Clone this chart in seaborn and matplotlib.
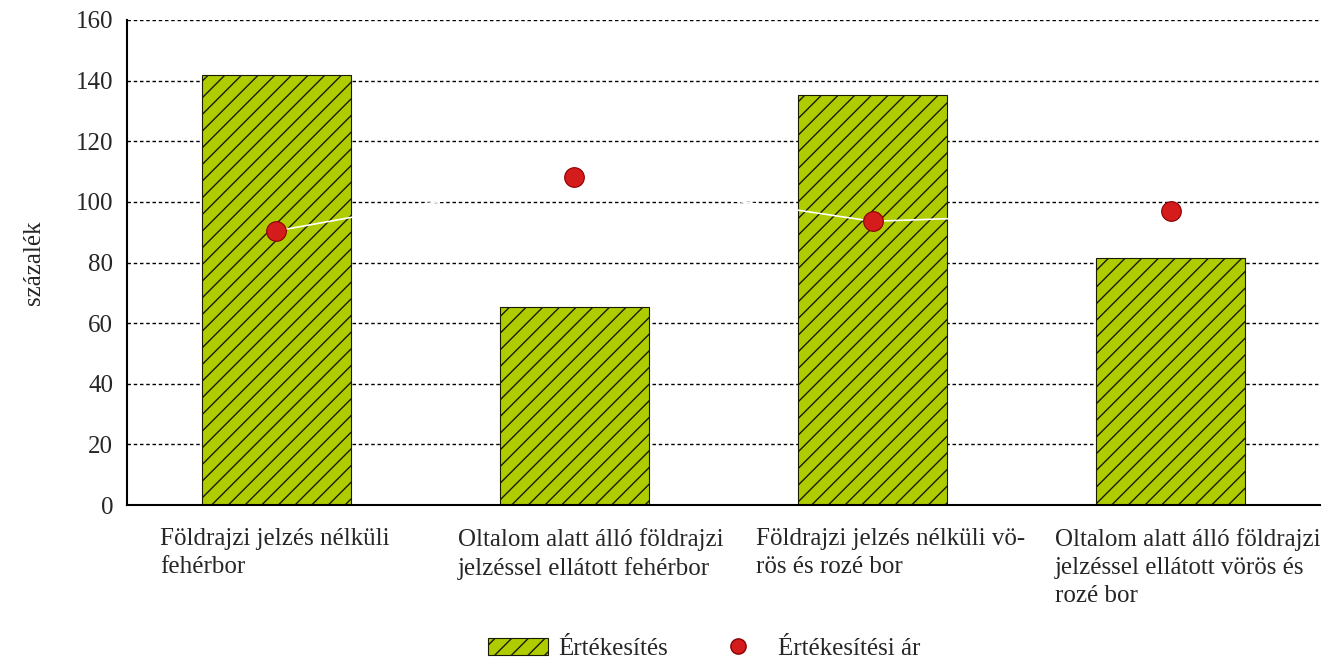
import matplotlib
matplotlib.use("Agg")
import matplotlib.pyplot as plt
import matplotlib.patches as mpatches
from matplotlib.lines import Line2D
import seaborn as sns
import pandas as pd

categories = [
    "Földrajzi jelzés nélküli\nfehérbor",
    "Oltalom alatt álló földrajzi\njelzéssel ellátott fehérbor",
    "Földrajzi jelzés nélküli vö-\nrös és rozé bor",
    "Oltalom alatt álló földrajzi\njelzéssel ellátott vörös és\nrozé bor",
]
sales = [142.0, 65.3, 135.4, 81.5]
price = [90.4, 108.2, 93.6, 97.0]
yticks = [0, 20, 40, 60, 80, 100, 120, 140, 160]
series_names = ["Értékesítés", "Értékesítési ár"]

sns.set_style("white")
plt.rcParams["font.family"] = ["Liberation Serif", "DejaVu Serif"]
plt.rcParams["hatch.linewidth"] = 1.0

df = pd.DataFrame({"cat": list(range(len(categories))), "sales": sales, "price": price})

fig = plt.figure(figsize=(13.28, 6.6), dpi=100)
ax = fig.add_axes([0.0956, 0.2348, 0.8984, 0.7349])

sns.barplot(data=df, x="cat", y="sales", color="#aecc00", width=0.5,
            edgecolor="#1a1a00", linewidth=0.8, saturation=1, ax=ax, native_scale=True, zorder=2)
for p in ax.patches:
    p.set_hatch("//")

sns.lineplot(data=df, x="cat", y="price", color="white", linewidth=1.2, ax=ax, zorder=3)
sns.scatterplot(data=df, x="cat", y="price", color="#d41c1c", edgecolor="#8a0000",
                s=200, linewidth=0.8, ax=ax, zorder=4)

ax.set_xlim(-0.5, 3.5)
ax.set_ylim(0, 160)
ax.set_yticks(yticks)
ax.set_yticklabels([str(v) for v in yticks], fontsize=18)
ax.yaxis.grid(True, color="black", linestyle=(0, (2.5, 2.0)), linewidth=1.0, zorder=0)
ax.set_axisbelow(True)

ax.set_xticks([-0.5, 0.5, 1.5, 2.5, 3.5])
ax.set_xticklabels([])
ax.tick_params(axis="x", direction="out", length=8, width=1.5, color="black")
ax.tick_params(axis="y", direction="out", length=7, width=1.5, color="black", pad=3)
ax.set_xlabel("")
ax.set_ylabel("százalék", fontsize=18, labelpad=22)

for s in ["top", "right"]:
    ax.spines[s].set_visible(False)
for s in ["left", "bottom"]:
    ax.spines[s].set_color("black")
    ax.spines[s].set_linewidth(1.5)

for i, lab in enumerate(categories):
    ax.text(i - 0.39, -7.5, lab, ha="left", va="top", fontsize=18, linespacing=1.35,
            transform=ax.transData, clip_on=False)

handles = [
    mpatches.Patch(facecolor="#aecc00", edgecolor="#1a1a00", hatch="//", linewidth=0.8),
    Line2D([], [], marker="o", linestyle="", markersize=11, markerfacecolor="#d41c1c",
           markeredgecolor="#8a0000"),
]
fig.legend(handles, series_names, loc="center", bbox_to_anchor=(0.53, 0.017), ncol=2,
           frameon=False, fontsize=18, handlelength=2.4, handleheight=0.7,
           columnspacing=1.6, handletextpad=0.4)

fig.savefig("out.png", dpi=100)
